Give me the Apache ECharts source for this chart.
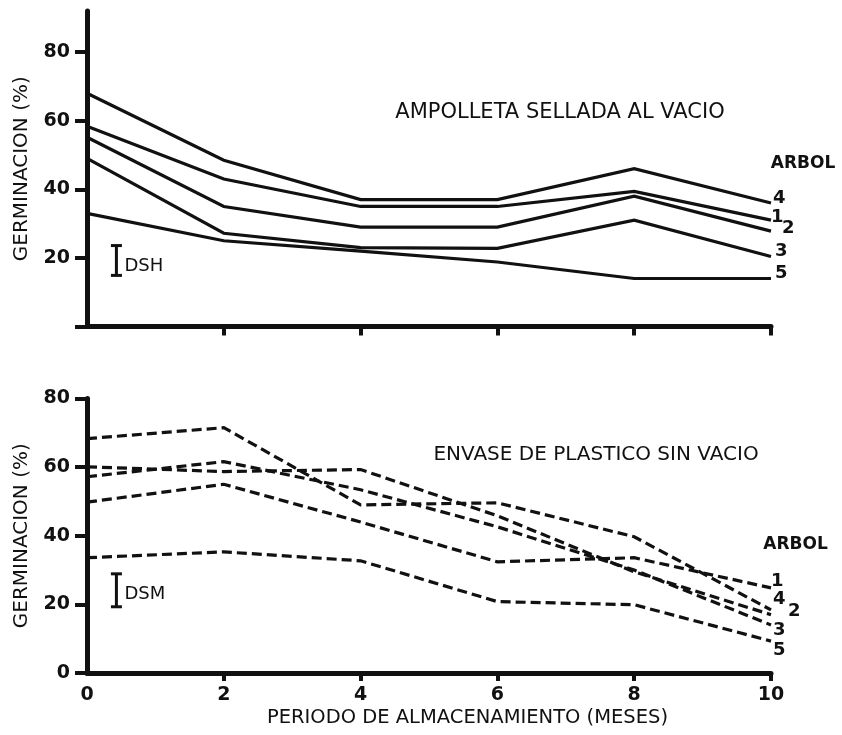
<!DOCTYPE html>
<html>
<head>
<meta charset="utf-8">
<script src="https://cdn.jsdelivr.net/npm/echarts@6/dist/echarts.min.js"></script>
<style>
html,body{margin:0;padding:0;background:#fff;}
#chart{width:842px;height:735px;}
</style>
</head>
<body>
<div id="chart"></div>
<script>
// ---- data ----
const months = [0, 2, 4, 6, 8, 10];
// Ampolleta sellada al vacio (solid lines), per tree (arbol)
const sealedTree1 = [58.4, 43, 35, 35, 39.4, 31];
const sealedTree2 = [55.2, 35, 29, 29, 38, 27.8];
const sealedTree3 = [49, 27.2, 23, 22.8, 31, 20.4];
const sealedTree4 = [68, 48.5, 37, 37, 46, 36];
const sealedTree5 = [33, 25, 22, 18.8, 14, 14];
// Envase de plastico sin vacio (dashed lines)
const plasticTree1 = [49.8, 55, 44, 32.4, 33.6, 24.8];
const plasticTree2 = [60.1, 58.7, 59.3, 45.8, 29.5, 17];
const plasticTree3 = [57.2, 61.6, 53.4, 42.6, 30, 14];
const plasticTree4 = [68.3, 71.5, 49, 49.6, 39.7, 18.4];
const plasticTree5 = [33.6, 35.3, 32.7, 20.8, 19.9, 9.3];
// significance bars: [x, low, high]
const dshTop = [0.43, 14.9, 23.6];
const dsmBottom = [0.43, 19.3, 28.9];
const yTicksTop = [0, 20, 40, 60, 80];
const yLabelsTop = [20, 40, 60, 80];
const xTicks = [2, 4, 6, 8, 10];

const INK = '#111';
const FONT = '"DejaVu Sans", "Liberation Sans", sans-serif';

function pts(arr) { return months.map((m, i) => [m, arr[i]]); }

function lineSeries(arr, idx, dashed) {
  return {
    type: 'line', xAxisIndex: idx, yAxisIndex: idx, data: pts(arr),
    showSymbol: false, symbol: 'none', silent: true,
    lineStyle: { color: INK, width: 3.2, type: dashed ? [10, 5] : 'solid', cap: 'butt', join: 'miter' }
  };
}

function ibeam(label, idx, item, dy) {
  return {
    type: 'custom', xAxisIndex: idx, yAxisIndex: idx, data: [item], silent: true,
    renderItem: function (params, api) {
      const x = api.value(0), lo = api.value(1), hi = api.value(2);
      const p1 = api.coord([x, hi]), p2 = api.coord([x, lo]);
      const cx = p1[0];
      return {
        type: 'group',
        children: [
          { type: 'line', shape: { x1: cx, y1: p1[1], x2: cx, y2: p2[1] }, style: { stroke: INK, lineWidth: 3 } },
          { type: 'line', shape: { x1: cx - 5.5, y1: p1[1], x2: cx + 5.5, y2: p1[1] }, style: { stroke: INK, lineWidth: 3 } },
          { type: 'line', shape: { x1: cx - 5.5, y1: p2[1], x2: cx + 5.5, y2: p2[1] }, style: { stroke: INK, lineWidth: 3 } },
          { type: 'text', style: { x: cx + 8, y: (p1[1] + p2[1]) / 2 + dy, text: label, fill: INK,
              font: 'normal 18px ' + FONT, align: 'left', verticalAlign: 'middle' } }
        ]
      };
    }
  };
}

function txt(text, x, y, size, weight, align) {
  return {
    type: 'text', silent: true,
    style: { x: x, y: y, text: text, fill: INK, font: weight + ' ' + size + 'px ' + FONT,
      align: align || 'left', verticalAlign: 'middle', textAlign: align || 'left', textVerticalAlign: 'middle' }
  };
}

const axisLineStyle = { color: INK, width: 5 };
const tickLabelStyle = { color: INK, fontSize: 19, fontWeight: 'bold', fontFamily: FONT };
const yNameStyle = { color: INK, fontSize: 20, fontWeight: 'normal', fontFamily: FONT };

const option = {
  animation: false,
  backgroundColor: '#fff',
  grid: [
    { left: 87, right: 71, top: 11, bottom: 408.5 },
    { left: 87, right: 71, top: 398.5, bottom: 62 }
  ],
  xAxis: [
    { gridIndex: 0, type: 'value', min: 0, max: 10, interval: 2,
      axisLine: { lineStyle: axisLineStyle },
      axisTick: { length: 9, customValues: xTicks, lineStyle: { color: INK, width: 4 } },
      axisLabel: { show: false }, splitLine: { show: false } },
    { gridIndex: 1, type: 'value', min: 0, max: 10, interval: 2,
      axisLine: { lineStyle: axisLineStyle },
      axisTick: { length: 8, customValues: xTicks, lineStyle: { color: INK, width: 4 } },
      axisLabel: Object.assign({ margin: 13 }, tickLabelStyle), splitLine: { show: false } }
  ],
  yAxis: [
    { gridIndex: 0, type: 'value', min: 0, max: 92, interval: 20,
      axisLine: { show: true, lineStyle: axisLineStyle },
      axisTick: { show: true, length: 12, customValues: yTicksTop, lineStyle: { color: INK, width: 4 } },
      axisLabel: Object.assign({ margin: 17, customValues: yLabelsTop }, tickLabelStyle),
      splitLine: { show: false },
      name: 'GERMINACION (%)', nameLocation: 'middle', nameGap: 55, nameTextStyle: yNameStyle },
    { gridIndex: 1, type: 'value', min: 0, max: 80, interval: 20,
      axisLine: { show: true, lineStyle: axisLineStyle },
      axisTick: { show: true, length: 12, lineStyle: { color: INK, width: 4 } },
      axisLabel: Object.assign({ margin: 17 }, tickLabelStyle),
      splitLine: { show: false },
      name: 'GERMINACION (%)', nameLocation: 'middle', nameGap: 55, nameTextStyle: yNameStyle }
  ],
  graphic: [
    txt('AMPOLLETA SELLADA AL VACIO', 560, 113, 21, 'normal', 'center'),
    txt('ENVASE DE PLASTICO SIN VACIO', 596, 455, 20, 'normal', 'center'),
    txt('ARBOL', 803, 163.5, 17, 'bold', 'center'),
    txt('ARBOL', 795.5, 545, 17, 'bold', 'center'),
    txt('4', 773, 198.5, 18, 'bold'),
    txt('1', 771, 217.5, 18, 'bold'),
    txt('2', 782, 228.5, 18, 'bold'),
    txt('3', 775, 251.5, 18, 'bold'),
    txt('5', 775, 273.5, 18, 'bold'),
    txt('1', 771, 581, 18, 'bold'),
    txt('4', 773, 599, 18, 'bold'),
    txt('2', 788, 611.5, 18, 'bold'),
    txt('3', 773, 630, 18, 'bold'),
    txt('5', 773, 650, 18, 'bold'),
    txt('PERIODO DE ALMACENAMIENTO (MESES)', 467.5, 718, 19.5, 'normal', 'center')
  ],
  series: [
    lineSeries(sealedTree1, 0, false),
    lineSeries(sealedTree2, 0, false),
    lineSeries(sealedTree3, 0, false),
    lineSeries(sealedTree4, 0, false),
    lineSeries(sealedTree5, 0, false),
    lineSeries(plasticTree1, 1, true),
    lineSeries(plasticTree2, 1, true),
    lineSeries(plasticTree3, 1, true),
    lineSeries(plasticTree4, 1, true),
    lineSeries(plasticTree5, 1, true),
    ibeam('DSH', 0, dshTop, 6),
    ibeam('DSM', 1, dsmBottom, 4)
  ]
};

const chart = echarts.init(document.getElementById('chart'), null, { renderer: 'canvas' });
chart.setOption(option);
</script>
</body>
</html>
